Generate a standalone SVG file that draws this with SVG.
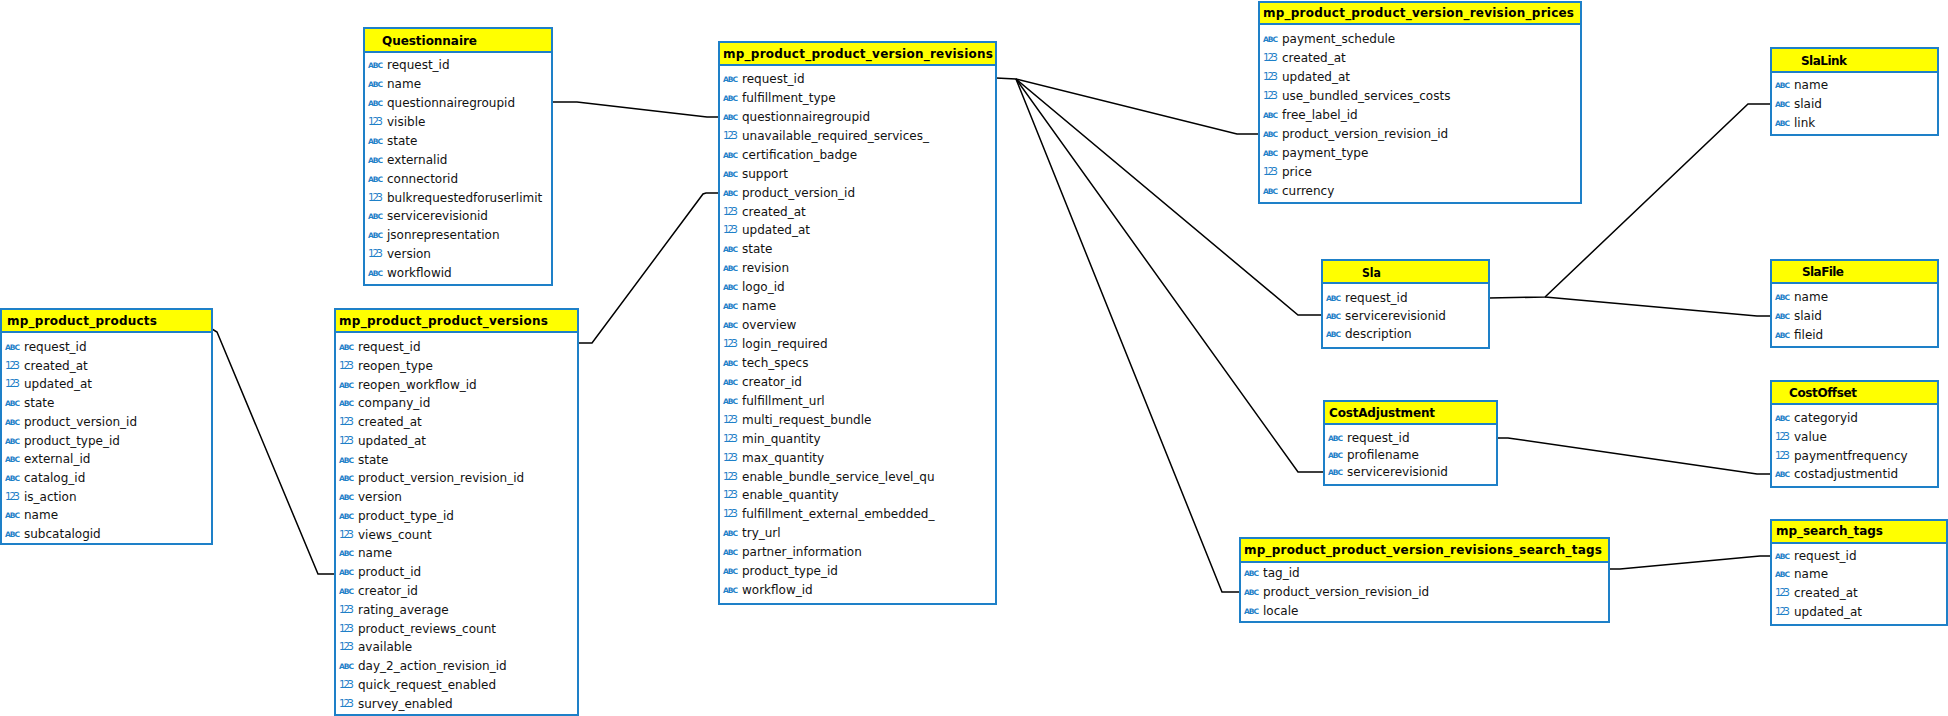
<svg xmlns="http://www.w3.org/2000/svg" width="1948" height="716" viewBox="0 0 1948 716">
<style>
.box{fill:#fff;stroke:#1E80C8;stroke-width:2}
.hdr{fill:#FFFF00;stroke:#1E80C8;stroke-width:2}
.t{font-family:"DejaVu Sans",sans-serif;font-weight:bold;font-size:12px;fill:#000}
.f{font-family:"DejaVu Sans",sans-serif;font-size:12px;fill:#111}
.a{font-family:"DejaVu Sans",sans-serif;font-weight:bold;font-size:7.5px;fill:#1E80C8}
.n{font-family:"DejaVu Sans",sans-serif;font-size:10.5px;fill:#1E80C8}
.c{fill:none;stroke:#000;stroke-width:1.5}
</style>
<rect width="1948" height="716" fill="#fff"/>
<g id="connectors">
<polyline class="c" points="212,329 217,332 318,574 335,574"/>
<polyline class="c" points="578,343 592,343 703,194 706,193 719,193"/>
<polyline class="c" points="552,102 577,102 707,117 719,117"/>
<polyline class="c" points="996,78 1016,79 1237,134 1259,134"/>
<polyline class="c" points="1016,79 1298,315 1322,315"/>
<polyline class="c" points="1016,79 1298,472 1324,472"/>
<polyline class="c" points="1016,79 1222,592 1240,592"/>
<polyline class="c" points="1489,298 1545,297 1748,104 1771,104"/>
<polyline class="c" points="1545,297 1757,316 1771,316"/>
<polyline class="c" points="1497,438 1508,438 1757,474 1771,474"/>
<polyline class="c" points="1609,569 1620,569 1760,556 1771,556"/>
</g>
<g id="mp_product_products">
<rect class="box" x="1" y="309" width="211" height="235"/>
<rect class="hdr" x="1" y="309" width="211" height="23"/>
<text class="t" x="7" y="325" textLength="150" lengthAdjust="spacing">mp_product_products</text>
<text class="a" x="5" y="350" textLength="15">ABC</text><text class="f" x="24" y="351">request_id</text>
<text class="n" x="5" y="369" textLength="15">123</text><text class="f" x="24" y="370">created_at</text>
<text class="n" x="5" y="387" textLength="15">123</text><text class="f" x="24" y="388">updated_at</text>
<text class="a" x="5" y="406" textLength="15">ABC</text><text class="f" x="24" y="407">state</text>
<text class="a" x="5" y="425" textLength="15">ABC</text><text class="f" x="24" y="426">product_version_id</text>
<text class="a" x="5" y="444" textLength="15">ABC</text><text class="f" x="24" y="445">product_type_id</text>
<text class="a" x="5" y="462" textLength="15">ABC</text><text class="f" x="24" y="463">external_id</text>
<text class="a" x="5" y="481" textLength="15">ABC</text><text class="f" x="24" y="482">catalog_id</text>
<text class="n" x="5" y="500" textLength="15">123</text><text class="f" x="24" y="501">is_action</text>
<text class="a" x="5" y="518" textLength="15">ABC</text><text class="f" x="24" y="519">name</text>
<text class="a" x="5" y="537" textLength="15">ABC</text><text class="f" x="24" y="538">subcatalogid</text>
</g>
<g id="Questionnaire">
<rect class="box" x="364" y="28" width="188" height="257"/>
<rect class="hdr" x="364" y="28" width="188" height="24"/>
<text class="t" x="382" y="45" textLength="95" lengthAdjust="spacing">Questionnaire</text>
<text class="a" x="368" y="68" textLength="15">ABC</text><text class="f" x="387" y="69">request_id</text>
<text class="a" x="368" y="87" textLength="15">ABC</text><text class="f" x="387" y="88">name</text>
<text class="a" x="368" y="106" textLength="15">ABC</text><text class="f" x="387" y="107">questionnairegroupid</text>
<text class="n" x="368" y="125" textLength="15">123</text><text class="f" x="387" y="126">visible</text>
<text class="a" x="368" y="144" textLength="15">ABC</text><text class="f" x="387" y="145">state</text>
<text class="a" x="368" y="163" textLength="15">ABC</text><text class="f" x="387" y="164">externalid</text>
<text class="a" x="368" y="182" textLength="15">ABC</text><text class="f" x="387" y="183">connectorid</text>
<text class="n" x="368" y="201" textLength="15">123</text><text class="f" x="387" y="202">bulkrequestedforuserlimit</text>
<text class="a" x="368" y="219" textLength="15">ABC</text><text class="f" x="387" y="220">servicerevisionid</text>
<text class="a" x="368" y="238" textLength="15">ABC</text><text class="f" x="387" y="239">jsonrepresentation</text>
<text class="n" x="368" y="257" textLength="15">123</text><text class="f" x="387" y="258">version</text>
<text class="a" x="368" y="276" textLength="15">ABC</text><text class="f" x="387" y="277">workflowid</text>
</g>
<g id="mp_product_product_versions">
<rect class="box" x="335" y="309" width="243" height="406"/>
<rect class="hdr" x="335" y="309" width="243" height="23"/>
<text class="t" x="339" y="325" textLength="209" lengthAdjust="spacing">mp_product_product_versions</text>
<text class="a" x="339" y="350" textLength="15">ABC</text><text class="f" x="358" y="351">request_id</text>
<text class="n" x="339" y="369" textLength="15">123</text><text class="f" x="358" y="370">reopen_type</text>
<text class="a" x="339" y="388" textLength="15">ABC</text><text class="f" x="358" y="389">reopen_workflow_id</text>
<text class="a" x="339" y="406" textLength="15">ABC</text><text class="f" x="358" y="407">company_id</text>
<text class="n" x="339" y="425" textLength="15">123</text><text class="f" x="358" y="426">created_at</text>
<text class="n" x="339" y="444" textLength="15">123</text><text class="f" x="358" y="445">updated_at</text>
<text class="a" x="339" y="463" textLength="15">ABC</text><text class="f" x="358" y="464">state</text>
<text class="a" x="339" y="481" textLength="15">ABC</text><text class="f" x="358" y="482">product_version_revision_id</text>
<text class="a" x="339" y="500" textLength="15">ABC</text><text class="f" x="358" y="501">version</text>
<text class="a" x="339" y="519" textLength="15">ABC</text><text class="f" x="358" y="520">product_type_id</text>
<text class="n" x="339" y="538" textLength="15">123</text><text class="f" x="358" y="539">views_count</text>
<text class="a" x="339" y="556" textLength="15">ABC</text><text class="f" x="358" y="557">name</text>
<text class="a" x="339" y="575" textLength="15">ABC</text><text class="f" x="358" y="576">product_id</text>
<text class="a" x="339" y="594" textLength="15">ABC</text><text class="f" x="358" y="595">creator_id</text>
<text class="n" x="339" y="613" textLength="15">123</text><text class="f" x="358" y="614">rating_average</text>
<text class="n" x="339" y="632" textLength="15">123</text><text class="f" x="358" y="633">product_reviews_count</text>
<text class="n" x="339" y="650" textLength="15">123</text><text class="f" x="358" y="651">available</text>
<text class="a" x="339" y="669" textLength="15">ABC</text><text class="f" x="358" y="670">day_2_action_revision_id</text>
<text class="n" x="339" y="688" textLength="15">123</text><text class="f" x="358" y="689">quick_request_enabled</text>
<text class="n" x="339" y="707" textLength="15">123</text><text class="f" x="358" y="708">survey_enabled</text>
</g>
<g id="mp_product_product_version_revisions">
<rect class="box" x="719" y="42" width="277" height="562"/>
<rect class="hdr" x="719" y="42" width="277" height="23"/>
<text class="t" x="723" y="58" textLength="270" lengthAdjust="spacing">mp_product_product_version_revisions</text>
<text class="a" x="723" y="82" textLength="15">ABC</text><text class="f" x="742" y="83">request_id</text>
<text class="a" x="723" y="101" textLength="15">ABC</text><text class="f" x="742" y="102">fulfillment_type</text>
<text class="a" x="723" y="120" textLength="15">ABC</text><text class="f" x="742" y="121">questionnairegroupid</text>
<text class="n" x="723" y="139" textLength="15">123</text><text class="f" x="742" y="140">unavailable_required_services_</text>
<text class="a" x="723" y="158" textLength="15">ABC</text><text class="f" x="742" y="159">certification_badge</text>
<text class="a" x="723" y="177" textLength="15">ABC</text><text class="f" x="742" y="178">support</text>
<text class="a" x="723" y="196" textLength="15">ABC</text><text class="f" x="742" y="197">product_version_id</text>
<text class="n" x="723" y="215" textLength="15">123</text><text class="f" x="742" y="216">created_at</text>
<text class="n" x="723" y="233" textLength="15">123</text><text class="f" x="742" y="234">updated_at</text>
<text class="a" x="723" y="252" textLength="15">ABC</text><text class="f" x="742" y="253">state</text>
<text class="a" x="723" y="271" textLength="15">ABC</text><text class="f" x="742" y="272">revision</text>
<text class="a" x="723" y="290" textLength="15">ABC</text><text class="f" x="742" y="291">logo_id</text>
<text class="a" x="723" y="309" textLength="15">ABC</text><text class="f" x="742" y="310">name</text>
<text class="a" x="723" y="328" textLength="15">ABC</text><text class="f" x="742" y="329">overview</text>
<text class="n" x="723" y="347" textLength="15">123</text><text class="f" x="742" y="348">login_required</text>
<text class="a" x="723" y="366" textLength="15">ABC</text><text class="f" x="742" y="367">tech_specs</text>
<text class="a" x="723" y="385" textLength="15">ABC</text><text class="f" x="742" y="386">creator_id</text>
<text class="a" x="723" y="404" textLength="15">ABC</text><text class="f" x="742" y="405">fulfillment_url</text>
<text class="n" x="723" y="423" textLength="15">123</text><text class="f" x="742" y="424">multi_request_bundle</text>
<text class="n" x="723" y="442" textLength="15">123</text><text class="f" x="742" y="443">min_quantity</text>
<text class="n" x="723" y="461" textLength="15">123</text><text class="f" x="742" y="462">max_quantity</text>
<text class="n" x="723" y="480" textLength="15">123</text><text class="f" x="742" y="481">enable_bundle_service_level_qu</text>
<text class="n" x="723" y="498" textLength="15">123</text><text class="f" x="742" y="499">enable_quantity</text>
<text class="n" x="723" y="517" textLength="15">123</text><text class="f" x="742" y="518">fulfillment_external_embedded_</text>
<text class="a" x="723" y="536" textLength="15">ABC</text><text class="f" x="742" y="537">try_url</text>
<text class="a" x="723" y="555" textLength="15">ABC</text><text class="f" x="742" y="556">partner_information</text>
<text class="a" x="723" y="574" textLength="15">ABC</text><text class="f" x="742" y="575">product_type_id</text>
<text class="a" x="723" y="593" textLength="15">ABC</text><text class="f" x="742" y="594">workflow_id</text>
</g>
<g id="mp_product_product_version_revision_prices">
<rect class="box" x="1259" y="2" width="322" height="201"/>
<rect class="hdr" x="1259" y="2" width="322" height="22"/>
<text class="t" x="1263" y="17" textLength="311" lengthAdjust="spacing">mp_product_product_version_revision_prices</text>
<text class="a" x="1263" y="42" textLength="15">ABC</text><text class="f" x="1282" y="43">payment_schedule</text>
<text class="n" x="1263" y="61" textLength="15">123</text><text class="f" x="1282" y="62">created_at</text>
<text class="n" x="1263" y="80" textLength="15">123</text><text class="f" x="1282" y="81">updated_at</text>
<text class="n" x="1263" y="99" textLength="15">123</text><text class="f" x="1282" y="100">use_bundled_services_costs</text>
<text class="a" x="1263" y="118" textLength="15">ABC</text><text class="f" x="1282" y="119">free_label_id</text>
<text class="a" x="1263" y="137" textLength="15">ABC</text><text class="f" x="1282" y="138">product_version_revision_id</text>
<text class="a" x="1263" y="156" textLength="15">ABC</text><text class="f" x="1282" y="157">payment_type</text>
<text class="n" x="1263" y="175" textLength="15">123</text><text class="f" x="1282" y="176">price</text>
<text class="a" x="1263" y="194" textLength="15">ABC</text><text class="f" x="1282" y="195">currency</text>
</g>
<g id="Sla">
<rect class="box" x="1322" y="260" width="167" height="88"/>
<rect class="hdr" x="1322" y="260" width="167" height="23"/>
<text class="t" x="1362" y="277" textLength="19" lengthAdjust="spacingAndGlyphs">Sla</text>
<text class="a" x="1326" y="301" textLength="15">ABC</text><text class="f" x="1345" y="302">request_id</text>
<text class="a" x="1326" y="319" textLength="15">ABC</text><text class="f" x="1345" y="320">servicerevisionid</text>
<text class="a" x="1326" y="337" textLength="15">ABC</text><text class="f" x="1345" y="338">description</text>
</g>
<g id="CostAdjustment">
<rect class="box" x="1324" y="401" width="173" height="84"/>
<rect class="hdr" x="1324" y="401" width="173" height="23"/>
<text class="t" x="1329" y="417" textLength="106" lengthAdjust="spacing">CostAdjustment</text>
<text class="a" x="1328" y="441" textLength="15">ABC</text><text class="f" x="1347" y="442">request_id</text>
<text class="a" x="1328" y="458" textLength="15">ABC</text><text class="f" x="1347" y="459">profilename</text>
<text class="a" x="1328" y="475" textLength="15">ABC</text><text class="f" x="1347" y="476">servicerevisionid</text>
</g>
<g id="mp_product_product_version_revisions_search_tags">
<rect class="box" x="1240" y="538" width="369" height="84"/>
<rect class="hdr" x="1240" y="538" width="369" height="24"/>
<text class="t" x="1244" y="554" textLength="358" lengthAdjust="spacing">mp_product_product_version_revisions_search_tags</text>
<text class="a" x="1244" y="576" textLength="15">ABC</text><text class="f" x="1263" y="577">tag_id</text>
<text class="a" x="1244" y="595" textLength="15">ABC</text><text class="f" x="1263" y="596">product_version_revision_id</text>
<text class="a" x="1244" y="614" textLength="15">ABC</text><text class="f" x="1263" y="615">locale</text>
</g>
<g id="SlaLink">
<rect class="box" x="1771" y="48" width="167" height="87"/>
<rect class="hdr" x="1771" y="48" width="167" height="24"/>
<text class="t" x="1801" y="65" textLength="46" lengthAdjust="spacing">SlaLink</text>
<text class="a" x="1775" y="88" textLength="15">ABC</text><text class="f" x="1794" y="89">name</text>
<text class="a" x="1775" y="107" textLength="15">ABC</text><text class="f" x="1794" y="108">slaid</text>
<text class="a" x="1775" y="126" textLength="15">ABC</text><text class="f" x="1794" y="127">link</text>
</g>
<g id="SlaFile">
<rect class="box" x="1771" y="260" width="167" height="87"/>
<rect class="hdr" x="1771" y="260" width="167" height="23"/>
<text class="t" x="1802" y="276" textLength="42" lengthAdjust="spacing">SlaFile</text>
<text class="a" x="1775" y="300" textLength="15">ABC</text><text class="f" x="1794" y="301">name</text>
<text class="a" x="1775" y="319" textLength="15">ABC</text><text class="f" x="1794" y="320">slaid</text>
<text class="a" x="1775" y="338" textLength="15">ABC</text><text class="f" x="1794" y="339">fileid</text>
</g>
<g id="CostOffset">
<rect class="box" x="1771" y="381" width="167" height="106"/>
<rect class="hdr" x="1771" y="381" width="167" height="23"/>
<text class="t" x="1789" y="397" textLength="68" lengthAdjust="spacing">CostOffset</text>
<text class="a" x="1775" y="421" textLength="15">ABC</text><text class="f" x="1794" y="422">categoryid</text>
<text class="n" x="1775" y="440" textLength="15">123</text><text class="f" x="1794" y="441">value</text>
<text class="n" x="1775" y="459" textLength="15">123</text><text class="f" x="1794" y="460">paymentfrequency</text>
<text class="a" x="1775" y="477" textLength="15">ABC</text><text class="f" x="1794" y="478">costadjustmentid</text>
</g>
<g id="mp_search_tags">
<rect class="box" x="1771" y="520" width="176" height="105"/>
<rect class="hdr" x="1771" y="520" width="176" height="23"/>
<text class="t" x="1776" y="535" textLength="107" lengthAdjust="spacing">mp_search_tags</text>
<text class="a" x="1775" y="559" textLength="15">ABC</text><text class="f" x="1794" y="560">request_id</text>
<text class="a" x="1775" y="577" textLength="15">ABC</text><text class="f" x="1794" y="578">name</text>
<text class="n" x="1775" y="596" textLength="15">123</text><text class="f" x="1794" y="597">created_at</text>
<text class="n" x="1775" y="615" textLength="15">123</text><text class="f" x="1794" y="616">updated_at</text>
</g>
</svg>
